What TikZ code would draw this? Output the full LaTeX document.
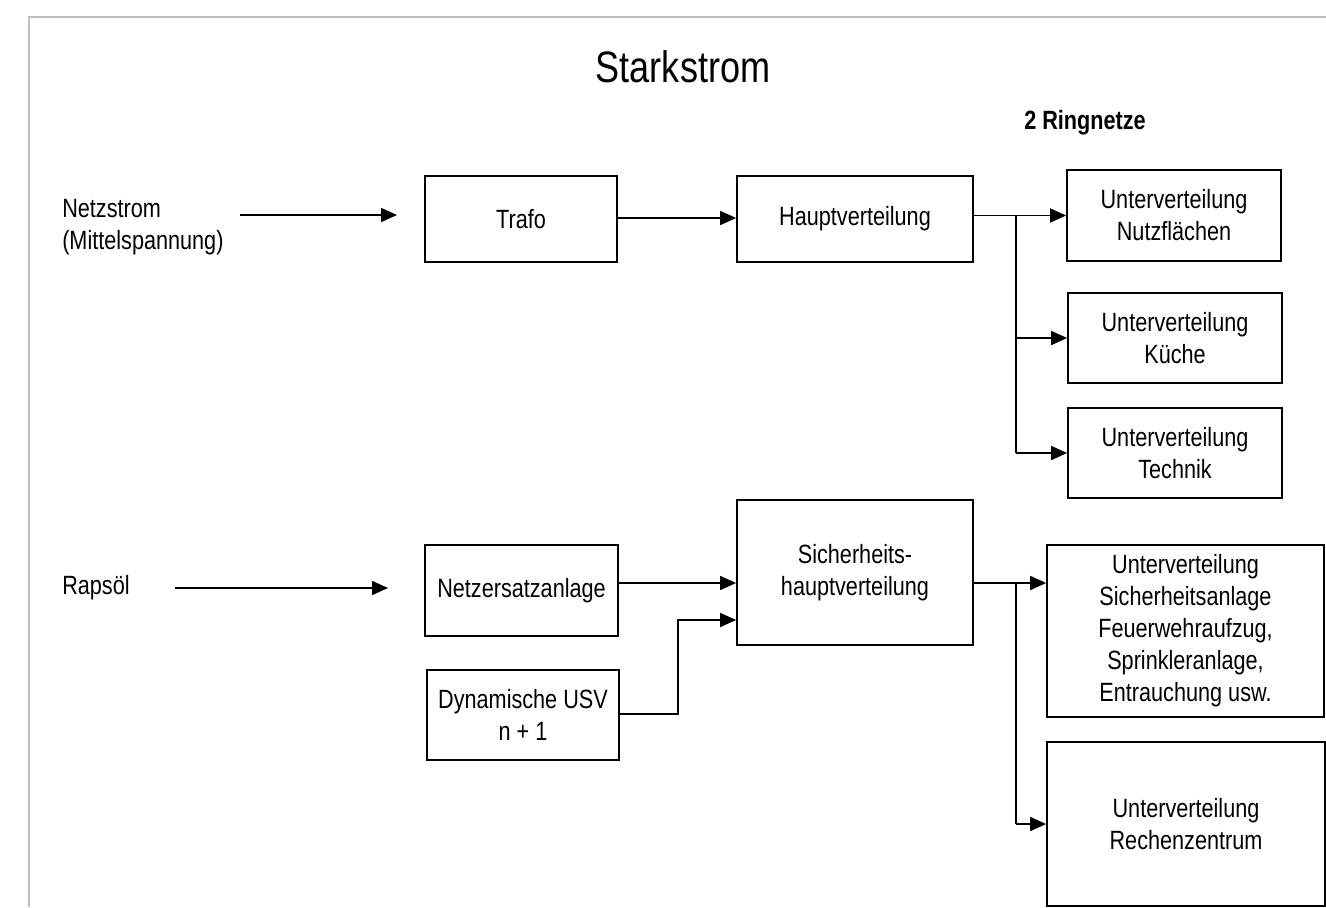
\documentclass[tikz,border=0pt]{standalone}
\usepackage{fontspec}
\setmainfont{Liberation Sans}[FakeStretch=0.82]
\usetikzlibrary{arrows.meta}
\newcommand\bodyfont{\fontsize{19.8}{24}\selectfont}
\newcommand\pxu{0.75pt}
\begin{document}
\begin{tikzpicture}[x=0.75pt,y=-0.75pt,
  box/.style={draw, line width=1.3pt, inner sep=0pt, align=center, font=\bodyfont},
  lbl/.style={inner sep=0pt, align=left, anchor=west, font=\bodyfont},
  wire/.style={line width=1.2pt},
  arr/.style={line width=1.2pt, -{Triangle[length=12pt,width=10.5pt]}}]
\useasboundingbox (0,0) rectangle (1326,907);
% frame lines
\draw[black!25, line width=1.5pt] (1326,17) -- (29,17) -- (29,907);

% headings
\node[inner sep=0pt, font=\fontsize{33}{40}\selectfont] (title) at (683,67) {Starkstrom};
\node[lbl, font=\bodyfont\bfseries] (ring) at (1024,123) {2 Ringnetze};

% sources
\node[lbl] (netz) at (62,227) {Netzstrom\\(Mittelspannung)};
\node[lbl] (raps) at (62,588) {Raps\"ol};

% boxes
\node[box, minimum width=192*\pxu, minimum height=86*\pxu] (trafo) at (521,219) {Trafo};
\node[box, minimum width=236*\pxu, minimum height=86*\pxu] (haupt) at (855,219) {Hauptverteilung};
\node[box, minimum width=214*\pxu, minimum height=91*\pxu] (uvn) at (1174,215.5) {Unterverteilung\\Nutzfl\"achen};
\node[box, minimum width=214*\pxu, minimum height=90*\pxu] (uvk) at (1175,338) {Unterverteilung\\K\"uche};
\node[box, minimum width=214*\pxu, minimum height=90*\pxu] (uvt) at (1175,453) {Unterverteilung\\Technik};
\node[box, minimum width=193*\pxu, minimum height=91*\pxu] (nea) at (521.5,590.5) {Netzersatzanlage};
\node[box, minimum width=236*\pxu, minimum height=145*\pxu] (shv) at (855,572.5) {Sicherheits-\\hauptverteilung};
\node[box, minimum width=192*\pxu, minimum height=90*\pxu] (usv) at (523,715) {Dynamische USV\\n + 1};
\node[box, minimum width=277*\pxu, minimum height=172*\pxu] (uvs) at (1185.5,631) {Unterverteilung\\Sicherheitsanlage\\Feuerwehraufzug,\\Sprinkleranlage,\\Entrauchung usw.};
\node[box, minimum width=278*\pxu, minimum height=164*\pxu] (uvr) at (1186,824) {Unterverteilung\\Rechenzentrum};

% helper points
\coordinate (netzA) at (240,215);
\coordinate (netzB) at (397,215);
\coordinate (rapsA) at (175,588);
\coordinate (rapsB) at (388,588);
\coordinate (bus1) at (1016,215);
\coordinate (bus2) at (1016,583);
\coordinate (jog) at (678,620);

% upper network
\draw[arr] (netzA) -- (netzB);
\draw[arr] (trafo.east |- 0,218) -- (haupt.west |- 0,218);
\draw[arr] (haupt.east |- uvn.west) -- (uvn.west);
\draw[wire] (bus1 |- uvn.west) -- (bus1 |- uvt.west);
\draw[arr] (bus1 |- uvk.west) -- (uvk.west);
\draw[arr] (bus1 |- uvt.west) -- (uvt.west);

% safety network
\draw[arr] (rapsA) -- (rapsB);
\draw[arr] (nea.east |- bus2) -- (shv.west |- bus2);
\draw[arr] (usv.east |- 0,714) -| (jog) -- (shv.west |- jog);
\draw[arr] (shv.east |- bus2) -- (uvs.west |- bus2);
\draw[wire] (bus2) -- (bus2 |- uvr.west);
\draw[arr] (bus2 |- uvr.west) -- (uvr.west);
\end{tikzpicture}
\end{document}
